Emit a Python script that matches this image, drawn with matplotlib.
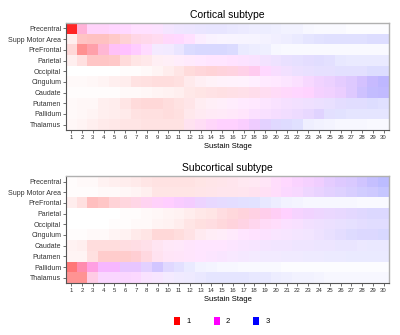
import numpy as np
import matplotlib
matplotlib.use("Agg")
import matplotlib.pyplot as plt
from matplotlib.patches import Patch

plt.rcParams['font.family'] = ['Liberation Sans', 'DejaVu Sans']

regions = ["Precentral", "Supp Motor Area", "PreFrontal", "Parietal", "Occipital",
           "Cingulum", "Caudate", "Putamen", "Pallidum", "Thalamus"]
stages = list(range(1, 31))

# intensity in percent per cell, hue in tenths (10 = z-score 1 red, 20 = 2 magenta, 30 = 3 blue)
cortical_intensity = [
    [85,30,17,17,16,15,12,12,11,10,10,10,10,10,10,9,8,7,7,6,5,5,3,2,2,2,1,1,1,1],
    [6,23,24,24,21,18,16,15,14,15,15,12,7,5,4,4,4,4,5,6,7,8,10,11,12,12,12,12,13,13],
    [15,43,37,28,24,24,20,14,8,8,10,14,15,15,15,14,8,7,6,3,2,2,2,2,2,2,2,2,2,2],
    [6,12,22,22,21,14,10,9,6,6,7,8,9,10,10,11,11,11,11,11,12,12,13,13,12,9,8,8,8,8],
    [0,0,0,0,0,1,1,2,4,7,10,14,16,17,17,17,18,20,15,13,12,12,12,12,12,12,12,12,13,13],
    [2,2,3,4,6,7,11,12,13,13,12,8,6,5,5,5,5,6,8,9,10,12,15,17,18,20,21,24,27,28],
    [1,1,1,1,1,2,2,3,4,5,6,9,10,11,12,12,12,13,13,14,15,16,17,18,18,19,21,24,26,27],
    [2,3,3,6,7,10,14,15,15,13,11,10,7,6,6,7,8,9,10,11,12,12,12,12,12,13,13,13,13,12],
    [2,3,4,6,7,8,11,12,12,13,12,9,8,8,8,9,10,12,12,13,13,14,15,17,12,11,10,10,10,10],
    [3,4,6,8,9,10,10,11,11,11,11,11,13,16,18,18,19,20,18,15,14,12,6,5,4,3,3,3,2,2],
]
cortical_hue = [
    [10,15,19,19,20,20,20,20,21,24,26,27,28,29,29,29,29,29,30,30,30,30,30,30,30,30,30,30,30,30],
    [10,10,10,10,10,11,14,15,16,19,20,20,22,24,25,26,27,28,28,29,29,30,30,30,30,30,30,30,30,30],
    [10,10,11,14,19,20,20,20,25,26,28,30,30,30,30,30,30,30,30,30,30,30,30,30,30,30,30,30,30,30],
    [10,10,10,10,10,10,10,11,13,15,18,19,20,20,20,20,21,22,24,26,27,28,28,29,29,30,30,30,30,30],
    [10,10,10,10,10,10,10,10,10,10,10,10,11,11,12,13,15,17,20,22,24,26,27,28,28,29,29,29,30,30],
    [10,10,10,10,10,10,10,10,10,10,10,11,13,15,17,18,19,20,20,20,21,21,22,23,24,25,26,27,28,29],
    [10,10,10,10,10,10,10,10,10,10,10,10,10,11,11,12,13,14,16,18,19,20,20,22,23,24,26,28,29,29],
    [10,10,10,10,10,10,10,10,10,10,10,11,13,15,17,19,20,20,21,22,23,24,25,26,27,28,29,29,30,30],
    [10,10,10,10,10,10,10,10,10,10,10,12,14,16,17,18,19,21,22,23,24,25,26,27,29,30,30,30,30,30],
    [10,10,10,10,10,10,10,10,10,10,10,15,17,19,20,20,21,23,26,28,29,30,30,30,30,30,30,30,30,30],
]

subcortical_intensity = [
    [1,2,2,5,6,7,8,10,11,11,11,11,10,10,10,10,9,9,10,13,15,17,18,19,20,21,21,23,25,26],
    [1,1,1,2,2,3,4,6,10,10,10,10,10,10,10,10,10,11,12,13,15,15,16,17,18,18,19,20,21,22],
    [7,12,25,22,17,16,16,17,18,19,20,20,17,15,14,13,12,11,9,7,5,4,3,3,3,3,3,2,2,2],
    [0,0,0,0,0,1,1,2,3,4,5,7,9,10,13,15,17,18,19,19,18,17,17,16,15,15,15,15,15,15],
    [0,0,0,0,1,1,2,2,4,5,7,10,12,13,15,17,17,16,14,13,12,12,12,12,12,12,12,13,13,13],
    [1,1,2,2,4,5,8,10,15,15,13,11,8,7,7,8,10,11,11,10,10,10,10,11,12,13,14,15,15,15],
    [5,6,13,13,13,13,13,12,10,9,9,10,10,10,10,10,10,10,10,10,10,10,10,10,10,10,10,9,9,9],
    [4,4,12,20,20,20,19,15,11,10,10,10,10,10,10,9,9,8,8,8,8,8,8,8,8,8,8,8,8,8],
    [53,45,37,28,28,22,22,18,22,15,12,8,5,4,3,3,2,2,2,2,1,1,1,1,1,1,1,1,1,1],
    [42,42,20,16,16,16,15,11,10,8,8,8,9,10,10,10,10,9,9,7,6,5,5,4,3,3,3,3,3,3],
]
subcortical_hue = [
    [10,10,10,10,10,10,10,10,10,10,10,10,10,11,12,13,14,15,17,19,20,21,22,23,25,26,27,28,29,30],
    [10,10,10,10,10,10,10,10,10,10,10,10,11,12,13,13,14,15,17,19,21,22,24,25,26,27,28,29,29,30],
    [10,10,10,10,11,12,14,17,19,20,21,22,24,26,27,28,29,30,30,30,30,30,30,30,30,30,30,30,30,30],
    [10,10,10,10,10,10,10,10,10,10,10,10,10,10,11,11,12,14,16,18,20,22,23,24,25,26,27,28,29,29],
    [10,10,10,10,10,10,10,10,10,10,10,10,10,11,11,12,14,16,18,19,21,22,24,25,26,27,28,28,29,29],
    [10,10,10,10,10,10,10,10,10,10,10,11,13,15,17,19,20,20,21,22,23,24,25,26,27,28,29,29,29,30],
    [10,10,10,10,10,11,12,13,15,17,18,19,20,20,20,21,22,23,24,25,25,26,26,27,27,28,28,28,29,29],
    [10,10,10,10,10,10,11,12,15,17,18,19,20,21,22,23,24,25,26,26,27,27,28,28,29,29,30,30,30,30],
    [10,13,17,21,21,24,24,26,28,28,29,30,30,30,30,30,30,30,30,30,30,30,30,30,30,30,30,30,30,30],
    [10,10,15,21,21,21,21,22,23,25,27,28,29,30,30,30,30,30,30,30,30,30,30,30,30,30,30,30,30,30],
]

legend_labels = ["1", "2", "3"]
legend_colors = ["#ff0000", "#ff00ff", "#0000ff"]


def to_rgb(intensity, hue):
    I = np.array(intensity, float) / 100.0
    h = np.array(hue, float) / 10.0
    p1 = np.where(h <= 2, I * (2 - h), 0.0)
    p2 = np.where(h <= 2, I * (h - 1), I * (3 - h))
    p3 = np.where(h > 2, I * (h - 2), 0.0)
    img = np.stack([1 - p3, 1 - p1 - p2 - p3, 1 - p1], axis=-1)
    return np.clip(img, 0, 1)


fig = plt.figure(figsize=(4.0, 3.35), dpi=100)
ax1 = fig.add_axes([0.165, 0.612, 0.8075, 0.319])
ax2 = fig.add_axes([0.165, 0.155, 0.8075, 0.319])

panels = [(ax1, cortical_intensity, cortical_hue, "Cortical subtype"),
          (ax2, subcortical_intensity, subcortical_hue, "Subcortical subtype")]

for ax, inten, hue, title in panels:
    img = to_rgb(inten, hue)
    ax.imshow(img, aspect='auto', interpolation='nearest',
              extent=(0.5, len(stages) + 0.5, len(regions) - 0.5, -0.5))
    ax.set_xticks(stages)
    ax.set_xticklabels([str(s) for s in stages], fontsize=4.3)
    ax.set_yticks(range(len(regions)))
    ax.set_yticklabels(regions, fontsize=5)
    ax.tick_params(axis='both', length=2, width=0.5, pad=1.5, colors='#333333')
    ax.set_xlabel("Sustain Stage", fontsize=5.5, labelpad=2)
    ax.set_title(title, fontsize=7.5, pad=4)
    for side in ['left', 'bottom']:
        ax.spines[side].set_color('#555555')
        ax.spines[side].set_linewidth(0.8)
    for side in ['top', 'right']:
        ax.spines[side].set_color('#b0b0b0')
        ax.spines[side].set_linewidth(1.0)

handles = [Patch(facecolor=c, edgecolor='none', label=l) for c, l in zip(legend_colors, legend_labels)]
fig.legend(handles=handles, loc='center', bbox_to_anchor=(0.555, 0.042), ncol=3, frameon=False,
           fontsize=5.5, handlelength=0.8, handleheight=1.2, columnspacing=3.0, handletextpad=0.8)

fig.savefig("out.png", dpi=100)
